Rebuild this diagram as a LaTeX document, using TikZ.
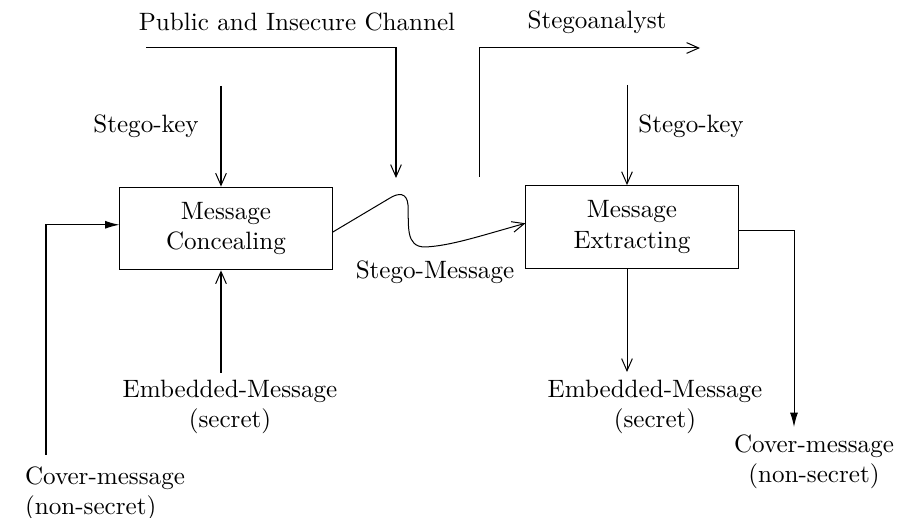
\documentclass[tikz,border=0pt]{standalone}
\usepackage{amsmath}
\usepackage{tikz}
\usetikzlibrary{positioning, arrows.meta}

\begin{document}
\begin{tikzpicture}[x=0.014cm, y=-0.014cm,
		block/.style={draw, thin, align=center, minimum width=2.97cm, minimum height=1.16cm},
		txt/.style={inner sep=0pt, align=center},
		barb/.style={thin, -{Straight Barb[length=1.7mm, width=1.5mm]}},
		head/.style={thin, -{Latex[length=2mm, width=1.1mm]}}]
				\useasboundingbox (0,0) rectangle (918,518);
				% the two boxes
				\node[block] (conceal) at (226,228.5) {Message\\Concealing};
				\node[block] (extract) at (632,227) {Message\\Extracting};
				% labels
				\node[txt] (channel) at (297,22) {Public and Insecure Channel};
				\node[txt] (analyst) at (597,22) {Stegoanalyst};
				\node[txt] (keyA) at (146,126) {Stego-key};
				\node[txt] (keyB) at (691,126) {Stego-key};
				\node[txt] (stego) at (435,272) {Stego-Message};
				\node[txt] (embA) at (230,407) {Embedded-Message\\(secret)};
				\node[txt] (embB) at (655,407) {Embedded-Message\\(secret)};
				\node[txt, align=left] (coverA) at (105,494) {Cover-message\\(non-secret)};
				\node[txt] (coverB) at (814,462) {Cover-message\\(non-secret)};
				% loose ends
				\coordinate (chanstart) at (146,48);
				\coordinate (chanend) at (396,178);
				\coordinate (anstart) at (479,177);
				\coordinate (anend) at (700,48);
				\coordinate (keyAtop) at (221,86);
				\coordinate (keyBtop) at (627,85);
				\coordinate (embAtop) at (221,373);
				\coordinate (embBend) at (627,372);
				\coordinate (coverAend) at (46,455);
				\coordinate (coverBend) at (794,427);
				% channel and eavesdropper
				\draw[barb] (chanstart) -| (chanend);
				\draw[barb] (anstart) |- (anend);
				% keys
				\draw[barb] (keyAtop) -- (keyAtop |- conceal.north);
				\draw[barb] (keyBtop) -- (keyBtop |- extract.north);
				% secret message in and out
				\draw[barb] (embAtop) -- (embAtop |- conceal.south);
				\draw[barb] (embBend |- extract.south) -- (embBend);
				% cover message in and out
				\draw[head] (coverAend) |- (conceal.178);
				\draw[head] (extract.-2) -| (coverBend);
				% stego message over the channel
				\draw[barb] (conceal.-2) -- (390,198) .. controls (398,193) and (407,192) .. (408,205)
					.. controls (409,225) and (405,247) .. (425,247)
					.. controls (450,246) and (480,236) .. (extract.178);
			\end{tikzpicture}
\end{document}
